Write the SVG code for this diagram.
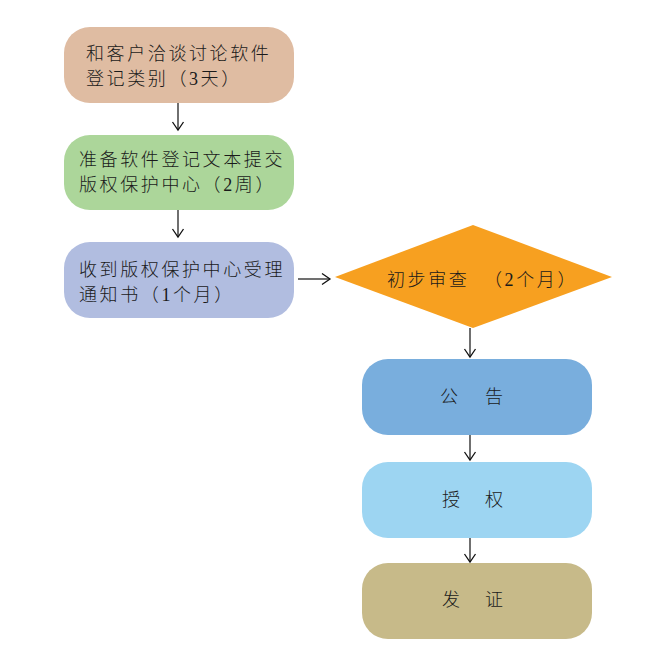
<svg xmlns="http://www.w3.org/2000/svg" width="657" height="661" viewBox="0 0 657 661">
<defs>
<marker id="arr" markerWidth="14" markerHeight="14" refX="10" refY="7" orient="auto" markerUnits="userSpaceOnUse">
<path d="M2,1.5 L10,7 L2,12.5" fill="none" stroke="#111" stroke-width="1.3"/>
</marker>
</defs>
<style>
.t{font-family:"Liberation Serif","Noto Sans CJK SC",serif;font-size:18px;font-weight:300;fill:#1a1a1a;letter-spacing:2.6px}
.c{font-family:"Liberation Serif","Noto Sans CJK SC",serif;font-size:18px;font-weight:300;fill:#1a1a1a}
.e{stroke:#222;stroke-width:1.3;fill:none;marker-end:url(#arr)}
</style>
<rect width="657" height="661" fill="#fff"/>
<g id="n1"><rect x="64" y="27" width="230" height="76" rx="26" fill="#dfbca2"/>
<text class="t" x="86" y="60">和客户洽谈讨论软件</text><text class="t" x="86" y="85">登记类别（3天）</text></g>
<g id="n2"><rect x="64" y="135" width="230" height="75" rx="26" fill="#acd69a"/>
<text class="t" x="79" y="166">准备软件登记文本提交</text><text class="t" x="79" y="191">版权保护中心（2周）</text></g>
<g id="n3"><rect x="64" y="242" width="230" height="76" rx="26" fill="#b1bde0"/>
<text class="t" x="79" y="276">收到版权保护中心受理</text><text class="t" x="79" y="301">通知书（1个月）</text></g>
<g id="n4"><polygon points="335,277 473,225 612,277 473,328" fill="#f7a020"/>
<text class="t" x="387" y="286">初步审查</text><text class="t" x="484" y="286">（2个月）</text></g>
<g id="n5"><rect x="362" y="359" width="230" height="76" rx="26" fill="#79aedd"/>
<text class="c" x="440" y="403">公</text><text class="c" x="485" y="403">告</text></g>
<g id="n6"><rect x="362" y="462" width="230" height="76" rx="26" fill="#9dd5f2"/>
<text class="c" x="442" y="506">授</text><text class="c" x="485" y="506">权</text></g>
<g id="n7"><rect x="362" y="563" width="230" height="76" rx="26" fill="#c7ba89"/>
<text class="c" x="442" y="606">发</text><text class="c" x="485" y="606">证</text></g>
<g id="edges">
<line class="e" x1="178" y1="103" x2="178" y2="130"/>
<line class="e" x1="178" y1="210" x2="178" y2="237"/>
<line class="e" x1="298" y1="279" x2="330" y2="279"/>
<line class="e" x1="470" y1="328" x2="470" y2="357"/>
<line class="e" x1="470" y1="435" x2="470" y2="460"/>
<line class="e" x1="470" y1="538" x2="470" y2="562"/>
</g>
</svg>
